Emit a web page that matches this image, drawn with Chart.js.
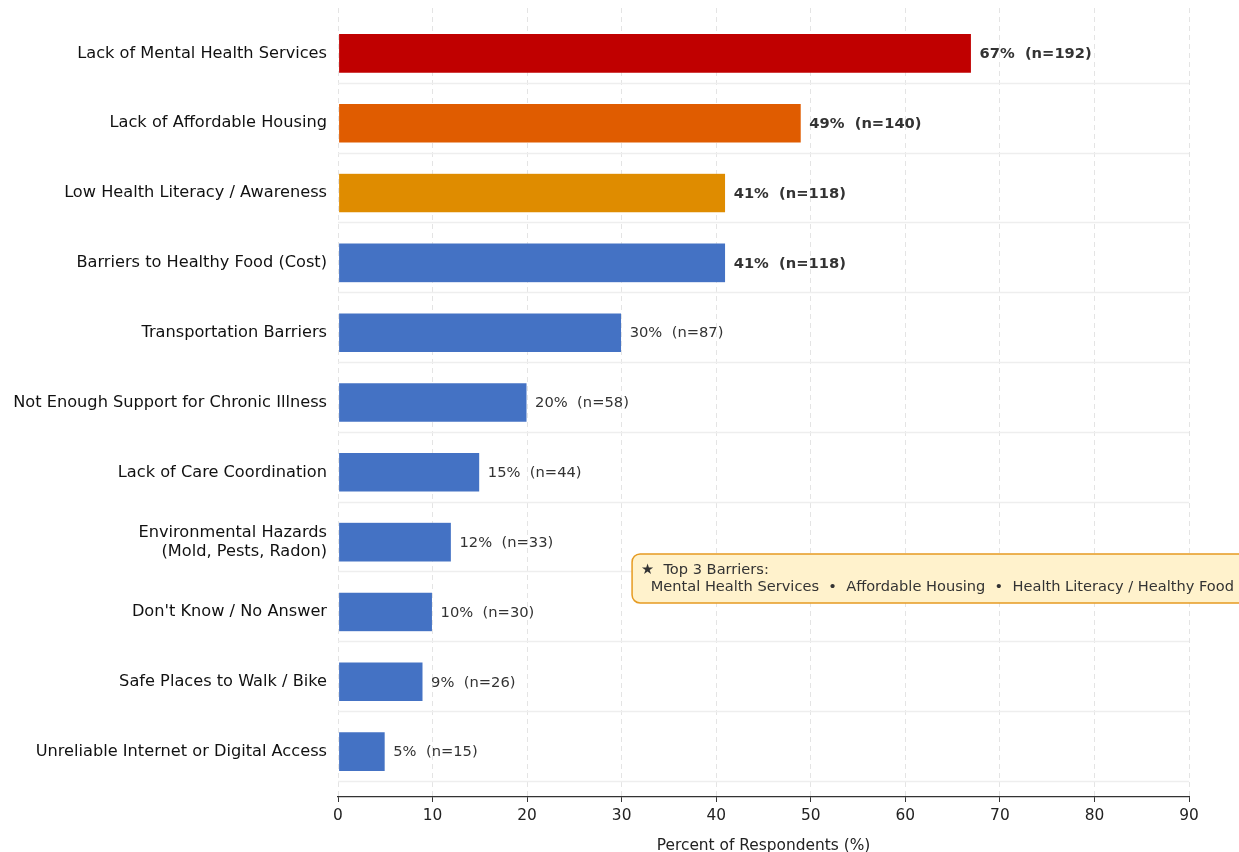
<!DOCTYPE html>
<html>
<head>
<meta charset="utf-8">
<script src="https://cdn.jsdelivr.net/npm/chart.js@4/dist/chart.umd.min.js"></script>
<style>
  html, body { margin: 0; padding: 0; background: #fff; }
  #wrap { width: 1239px; height: 852px; }
</style>
</head>
<body>
<div id="wrap"><canvas id="barriers"></canvas></div>
<script>
// survey results
const categories = [
  "Lack of Mental Health Services",
  "Lack of Affordable Housing",
  "Low Health Literacy / Awareness",
  "Barriers to Healthy Food (Cost)",
  "Transportation Barriers",
  "Not Enough Support for Chronic Illness",
  "Lack of Care Coordination",
  ["Environmental Hazards", "(Mold, Pests, Radon)"],
  "Don't Know / No Answer",
  "Safe Places to Walk / Bike",
  "Unreliable Internet or Digital Access"
];
const percents = [67, 49, 41, 41, 30, 20, 15, 12, 10, 9, 5];
const counts = [192, 140, 118, 118, 87, 58, 44, 33, 30, 26, 15];
const barColors = ["#C00000", "#E05C00", "#DF8C00", "#4472C4", "#4472C4", "#4472C4",
  "#4472C4", "#4472C4", "#4472C4", "#4472C4", "#4472C4"];
const xTicks = [0, 10, 20, 30, 40, 50, 60, 70, 80, 90];
const boldCount = 4;
const noteTitle = "\u2605  Top 3 Barriers:";
const noteText = " Mental Health Services  \u2022  Affordable Housing  \u2022  Health Literacy / Healthy Food";

const FONT = "'DejaVu Sans', 'Liberation Sans', sans-serif";

// light separators between rows
const rowLines = {
  id: "rowLines",
  beforeDatasetsDraw(chart) {
    const {ctx, chartArea, scales} = chart;
    ctx.save();
    ctx.strokeStyle = "#eeeeee";
    ctx.lineWidth = 1.5;
    for (let i = 0; i < categories.length; i++) {
      const y = Math.round(scales.y.getPixelForValue(i + 0.42)) + 0.5;
      ctx.beginPath();
      ctx.moveTo(chartArea.left, y);
      ctx.lineTo(chartArea.right, y);
      ctx.stroke();
    }
    ctx.restore();
  }
};

// "NN%  (n=NN)" next to each bar
const valueLabels = {
  id: "valueLabels",
  afterDatasetsDraw(chart) {
    const {ctx} = chart;
    const meta = chart.getDatasetMeta(0);
    ctx.save();
    ctx.fillStyle = "#333";
    ctx.textBaseline = "middle";
    ctx.textAlign = "left";
    meta.data.forEach((bar, i) => {
      ctx.font = (i < boldCount ? "bold " : "") + "14.7px " + FONT;
      ctx.fillText(percents[i] + "%  (n=" + counts[i] + ")", bar.x + 8, bar.y + 1);
    });
    ctx.restore();
  }
};

// callout box
const note = {
  id: "note",
  afterDraw(chart) {
    const {ctx, scales} = chart;
    const x = scales.x.getPixelForValue(31.1);
    const yc = scales.y.getPixelForValue(7.52);
    const w = 616, h = 49, r = 8;
    const y = yc - h / 2;
    ctx.save();
    ctx.beginPath();
    ctx.roundRect(x, y, w, h, r);
    ctx.fillStyle = "#FFF2CC";
    ctx.fill();
    ctx.lineWidth = 1.5;
    ctx.strokeStyle = "#E69B22";
    ctx.stroke();
    ctx.fillStyle = "#333";
    ctx.font = "14.6px " + FONT;
    ctx.textBaseline = "middle";
    ctx.fillText(noteTitle, x + 9, y + 16.5);
    ctx.fillText(noteText, x + 14, y + 33.5);
    ctx.restore();
  }
};

new Chart(document.getElementById("barriers"), {
  type: "bar",
  data: {
    datasets: [{
      data: percents.map((v, i) => ({x: v, y: i})),
      backgroundColor: barColors,
      borderColor: "rgba(255,255,255,0.35)",
      borderWidth: 0.6,
      borderSkipped: false,
      barPercentage: 0.57,
      categoryPercentage: 1
    }]
  },
  options: {
    indexAxis: "y",
    responsive: true,
    maintainAspectRatio: false,
    animation: false,
    layout: {padding: {top: 8, right: 50, bottom: 0, left: 0}},
    plugins: {legend: {display: false}, tooltip: {enabled: false}},
    scales: {
      x: {
        type: "linear",
        min: 0,
        max: 90,
        afterBuildTicks: (scale) => { scale.ticks = xTicks.map(v => ({value: v})); },
        afterFit: (scale) => { scale.height = 55; scale.paddingLeft = 0; scale.paddingRight = 0; },
        ticks: {color: "#222", font: {family: FONT, size: 15.4}, padding: 5},
        grid: {
          color: "#e4e4e4",
          lineWidth: 1,
          tickColor: "#333",
          tickLength: 5,
          tickWidth: 1,
          tickBorderDash: []
        },
        border: {display: true, color: "#333", width: 1.2, dash: [5, 4]},
        title: {
          display: true,
          text: "Percent of Respondents (%)",
          color: "#222",
          font: {family: FONT, size: 15.4},
          padding: {top: 0, bottom: -3}
        }
      },
      y: {
        type: "linear",
        offset: false,
        min: -0.65,
        max: 10.65,
        reverse: true,
        afterBuildTicks: (scale) => { scale.ticks = categories.map((c, i) => ({value: i})); },
        afterFit: (scale) => { scale.width = 338; scale.paddingTop = 0; scale.paddingBottom = 0; },
        ticks: {
          color: "#111",
          font: {family: FONT, size: 16.2},
          padding: 11,
          callback: (v) => categories[v]
        },
        grid: {display: false, drawTicks: false},
        border: {display: false}
      }
    }
  },
  plugins: [rowLines, valueLabels, note]
});
</script>
</body>
</html>
